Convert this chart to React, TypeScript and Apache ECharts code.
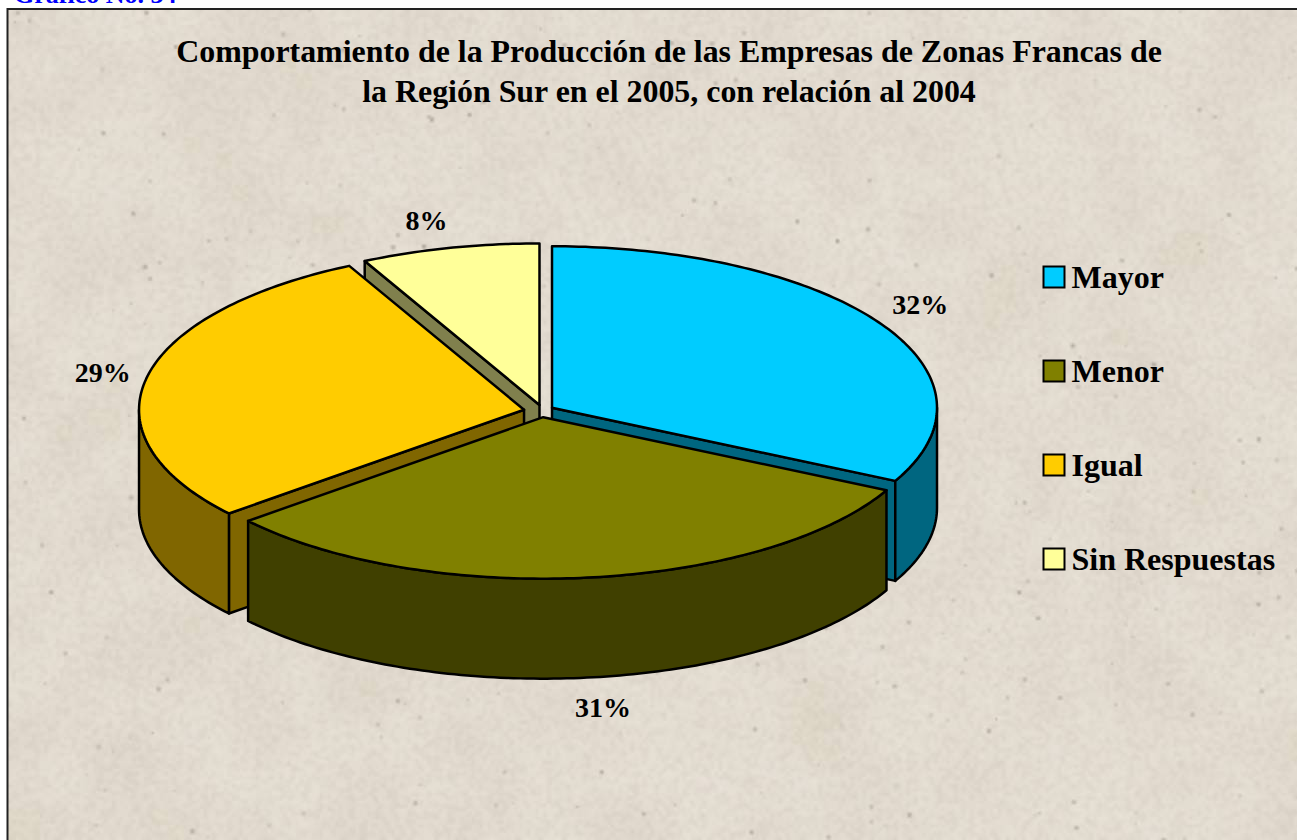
import React, { useEffect, useRef } from "react";
import * as echarts from "echarts";

const categories = ["Mayor", "Menor", "Igual", "Sin Respuestas"];
const shares = [32.48, 31.42, 28.6, 7.5];
const topColors = ["#00CCFF", "#808000", "#FFCC00", "#FFFF99"];
const wallColors = ["#006680", "#404000", "#806600", "#80804D"];
const titleLines = [
  "Comportamiento de la Producción de las Empresas de Zonas Francas de",
  "la Región Sur en el 2005, con relación al 2004",
];
const captionText = "Gráfico No. 34";

// pie layout, not data
const CX = 540.5, CY = 411, RX = 385, RY = 161.5, DEPTH = 100;
const EXPLODE_Y = 6.2;
const STROKE = 2.5;
const explodeX = [13.5, 24, 16.8, 4.3];
const labelOffsets = [[40, -19], [16, 30], [-44, -5], [-23, -27]];
const FONT = '"Liberation Serif", "Times New Roman", serif';

const total = shares.reduce((a, b) => a + b, 0);
const starts: number[] = [];
shares.reduce((acc, v, i) => {
  starts[i] = (acc / total) * 360;
  return acc + v;
}, 0);
const rad = (d: number) => (d * Math.PI) / 180;

function sliceGeometry(i: number) {
  const a0 = starts[i];
  const a1 = a0 + (shares[i] / total) * 360;
  const mid = (a0 + a1) / 2;
  const ax = CX + explodeX[i] * Math.sin(rad(mid));
  const ay = CY - EXPLODE_Y * Math.cos(rad(mid));
  const at = (a: number, drop = 0): number[] => [
    ax + RX * Math.sin(rad(a)),
    ay - RY * Math.cos(rad(a)) + drop,
  ];
  return { a0, a1, mid, ax, ay, at };
}

function arc(from: number, to: number, f: (a: number) => number[]) {
  const pts: number[][] = [];
  const n = Math.max(2, Math.ceil(Math.abs(to - from)));
  for (let k = 0; k <= n; k++) pts.push(f(from + ((to - from) * k) / n));
  return pts;
}

function renderSlice(i: number) {
  const { a0, a1, mid, ax, ay, at } = sliceGeometry(i);
  const wallStyle = { fill: wallColors[i], stroke: "#000", lineWidth: STROKE, lineJoin: "round" };
  const children: any[] = [];
  const face = (a: number) => ({
    type: "polygon",
    shape: { points: [[ax, ay], at(a), at(a, DEPTH), [ax, ay + DEPTH]] },
    style: wallStyle,
  });
  if (Math.sin(rad(a0)) < -1e-6) children.push(face(a0));
  if (Math.sin(rad(a1)) > 1e-6) children.push(face(a1));
  const w0 = Math.max(a0, 90), w1 = Math.min(a1, 270);
  if (w1 > w0) {
    const top = arc(w0, w1, (a) => at(a));
    const bottom = arc(w1, w0, (a) => at(a, DEPTH));
    children.push({ type: "polygon", shape: { points: top.concat(bottom) }, style: wallStyle });
  }
  children.push({
    type: "polygon",
    shape: { points: [[ax, ay] as number[]].concat(arc(a0, a1, (a) => at(a))) },
    style: { fill: topColors[i], stroke: "#000", lineWidth: STROKE, lineJoin: "round" },
  });
  const rim = at(mid, mid > 90 && mid < 270 ? DEPTH : 0);
  children.push({
    type: "text",
    x: rim[0] + labelOffsets[i][0],
    y: rim[1] + labelOffsets[i][1],
    style: {
      text: Math.round((shares[i] / total) * 100) + "%",
      font: `bold 28px ${FONT}`,
      fill: "#000",
      align: "center",
      verticalAlign: "middle",
    },
  });
  return { type: "group", children };
}

// Decorative paper grain of the backdrop (not chart data), seeded and repeatable.
function makeTexture(w: number, h: number) {
  let seed = 20050;
  const rnd = () => {
    seed = (seed * 16807) % 2147483647;
    return seed / 2147483647;
  };
  const noiseLayer = (scale: number, amp: number) => {
    const s = document.createElement("canvas");
    s.width = Math.ceil(w / scale);
    s.height = Math.ceil(h / scale);
    const sg = s.getContext("2d")!;
    const img = sg.createImageData(s.width, s.height);
    for (let p = 0; p < img.data.length; p += 4) {
      const v = rnd();
      const dark = v < 0.5;
      img.data[p] = dark ? 170 : 255;
      img.data[p + 1] = dark ? 150 : 255;
      img.data[p + 2] = dark ? 120 : 255;
      img.data[p + 3] = Math.abs(v - 0.5) * 2 * amp;
    }
    sg.putImageData(img, 0, 0);
    return s;
  };
  const c = document.createElement("canvas");
  c.width = w;
  c.height = h;
  const g = c.getContext("2d")!;
  g.fillStyle = "#E2DBCF";
  g.fillRect(0, 0, w, h);
  g.imageSmoothingEnabled = true;
  g.imageSmoothingQuality = "high";
  g.drawImage(noiseLayer(40, 18), 0, 0, w, h);
  g.drawImage(noiseLayer(4, 26), 0, 0, w, h);
  const dots = document.createElement("canvas");
  dots.width = Math.ceil(w / 2);
  dots.height = Math.ceil(h / 2);
  const dg = dots.getContext("2d")!;
  for (let i = 0; i < 380; i++) {
    dg.fillStyle = `rgba(150,142,128,${0.2 + rnd() * 0.4})`;
    const size = 1 + Math.floor(rnd() * 2);
    dg.fillRect(rnd() * dots.width, rnd() * dots.height, size, size);
  }
  g.drawImage(dots, 0, 0, w, h);
  return c.toDataURL("image/jpeg", 0.7);
}

export default function App() {
  const ref = useRef<HTMLDivElement>(null);
  useEffect(() => {
    document.body.style.margin = "0";
    const chart = echarts.init(ref.current!, undefined, { renderer: "svg" });
    const order = categories
      .map((_, i) => i)
      .sort((p, q) => -Math.cos(rad(sliceGeometry(p).mid)) + Math.cos(rad(sliceGeometry(q).mid)));
    chart.setOption({
      animation: false,
      backgroundColor: "#fff",
      title: {
        text: titleLines.join("\n"),
        left: 664,
        top: 26,
        textAlign: "center",
        textStyle: { fontFamily: FONT, fontWeight: "bold", fontSize: 31.9, lineHeight: 40, color: "#000" },
      },
      legend: {
        orient: "vertical",
        left: 1042.5,
        top: 261,
        padding: 0,
        itemWidth: 21,
        itemHeight: 21,
        itemGap: 62,
        icon: "rect",
        selectedMode: false,
        data: categories,
        itemStyle: { borderColor: "#000", borderWidth: 2 },
        textStyle: { fontFamily: FONT, fontWeight: "bold", fontSize: 32, lineHeight: 30, color: "#000", padding: [0, 0, 0, 2] },
      },
      graphic: [
        {
          type: "image",
          z: 0,
          x: 8,
          y: 9,
          style: { image: makeTexture(1289, 831), x: 0, y: 0, width: 1289, height: 831 },
        },
        {
          type: "rect",
          z: 1,
          shape: { x: 7.5, y: 9, width: 1500, height: 1000 },
          style: { fill: "none", stroke: "#222", lineWidth: 2 },
        },
        {
          type: "text",
          z: 1,
          x: 14,
          y: -19,
          style: { text: captionText, font: `bold 26px ${FONT}`, fill: "#0000FF" },
        },
      ],
      series: categories.map((name, i) => ({
        type: "custom",
        name,
        coordinateSystem: "none",
        z: 3 + order.indexOf(i),
        silent: true,
        itemStyle: { color: topColors[i] },
        data: [shares[i]],
        renderItem: () => renderSlice(i),
      })),
    });
    return () => chart.dispose();
  }, []);
  return <div ref={ref} style={{ position: "absolute", left: 0, top: 0, width: 1297, height: 840 }} />;
}
